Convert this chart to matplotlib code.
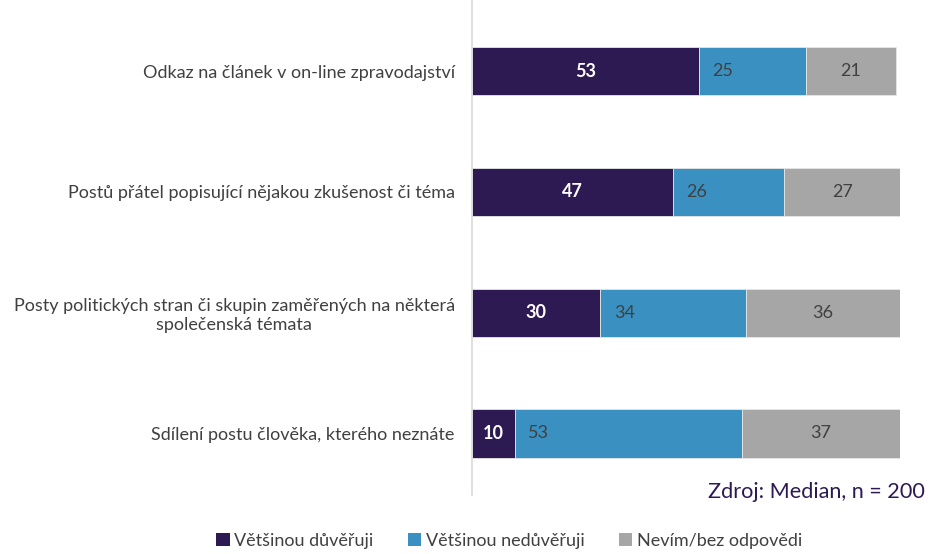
import matplotlib
matplotlib.use("Agg")
import matplotlib.pyplot as plt
from matplotlib.patches import Patch

plt.rcParams['font.family'] = ['Lato', 'DejaVu Sans']

categories = [
    "Odkaz na článek v on-line zpravodajství",
    "Postů přátel popisující nějakou zkušenost či téma",
    "Posty politických stran či skupin zaměřených na některá\nspolečenská témata",
    "Sdílení postu člověka, kterého neznáte",
]
series_names = ["Většinou důvěřuji", "Většinou nedůvěřuji", "Nevím/bez odpovědi"]
trust = [53, 47, 30, 10]
distrust = [25, 26, 34, 53]
dontknow = [21, 27, 36, 37]
colors = ["#2E1A52", "#3A91C1", "#A6A6A6"]
label_colors = ["white", "#404040", "#404040"]

fig = plt.figure(figsize=(9.3, 5.54), dpi=100)
ax = fig.add_axes([472/930, 1 - 495/554, (900-472)/930, 495/554])

y = list(range(len(categories)))
lefts = [0]*len(categories)
for si, vals in enumerate([trust, distrust, dontknow]):
    ax.barh(y, vals, left=lefts, height=0.4, color=colors[si],
            edgecolor="#E6E6E6", linewidth=0.6)
    for i, v in enumerate(vals):
        if si == 1:
            xpos = lefts[i] + 5.6
        else:
            xpos = lefts[i] + v/2
        ax.text(xpos, i, str(v), ha="center", va="center", fontsize=13,
                color=label_colors[si], fontweight="bold" if si == 0 else "normal")
    lefts = [l + v for l, v in zip(lefts, vals)]

ax.set_xlim(0, 100)
ax.set_ylim(3.51, -0.59)
ax.set_yticks(y)
ax.set_yticklabels(categories, fontsize=13, color="#404040", ha="right",
                   multialignment="center")
ax.tick_params(axis="y", length=0, pad=12.5)
ax.set_xticks([])
for s in ["top", "right", "bottom"]:
    ax.spines[s].set_visible(False)
ax.spines["left"].set_color("#D9D9D9")
ax.spines["left"].set_linewidth(1.2)

fig.text(925/930, 1 - 492/554, "Zdroj: Median, n = 200", ha="right", va="center",
         fontsize=15.6, color="#2E1A52")

handles = [Patch(facecolor=c, edgecolor="none") for c in colors]
fig.legend(handles, series_names, loc="center", bbox_to_anchor=(509/930, 1 - 541/554),
           ncol=3, frameon=False, fontsize=13, handlelength=0.75, handleheight=0.75,
           handletextpad=0.25, columnspacing=1.9, labelcolor="#404040")

fig.savefig("out.png", dpi=100)
